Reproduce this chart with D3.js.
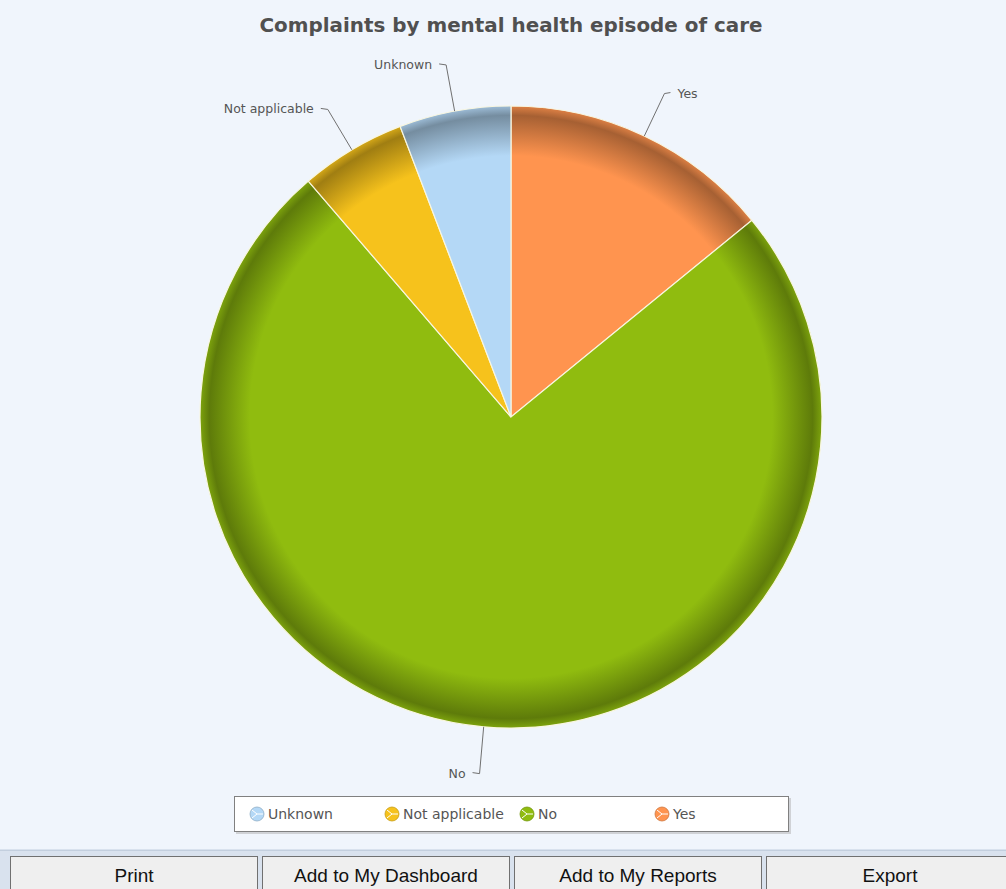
<!DOCTYPE html>
<html>
<head>
<meta charset="utf-8">
<script src="https://cdnjs.cloudflare.com/ajax/libs/d3/7.8.5/d3.min.js"></script>
<style>
  body { margin: 0; background: #f0f5fc; overflow: hidden; }
  svg { display: block; }
</style>
</head>
<body>
<script>
// slice data, clockwise from 12 o'clock
var categories = ["Yes", "No", "Not applicable", "Unknown"];
var values = [14.1, 74.6, 5.5, 5.8];
var colors = ["#ff944f", "#90bc0f", "#f6c21c", "#b4d8f6"];
var legendOrder = ["Unknown", "Not applicable", "No", "Yes"];
var buttons = ["Print", "Add to My Dashboard", "Add to My Reports", "Export"];

var width = 1006, height = 889;
var cx = 511, cy = 417, radius = 311;

var svg = d3.select("body").append("svg")
    .attr("width", width)
    .attr("height", height);

svg.append("rect").attr("width", width).attr("height", height).attr("fill", "#f0f5fc");

// title
svg.append("text")
    .attr("x", cx).attr("y", 32)
    .attr("text-anchor", "middle")
    .attr("font-family", "DejaVu Sans, Verdana, sans-serif")
    .attr("font-weight", "bold")
    .attr("font-size", 19)
    .attr("textLength", 503)
    .attr("lengthAdjust", "spacingAndGlyphs")
    .attr("fill", "#505050")
    .text("Complaints by mental health episode of care");

var data = categories.map(function(c, i) { return {name: c, value: values[i], color: colors[i]}; });

var pie = d3.pie().sort(null).value(function(d) { return d.value; });
var arcs = pie(data);
var arc = d3.arc().innerRadius(0).outerRadius(radius);

var defs = svg.append("defs");
data.forEach(function(d, i) {
  var g = defs.append("radialGradient")
      .attr("id", "grad" + i)
      .attr("gradientUnits", "userSpaceOnUse")
      .attr("cx", 0).attr("cy", 0).attr("r", radius);
  var base = d3.color(d.color);
  g.append("stop").attr("offset", "0%").attr("stop-color", base);
  g.append("stop").attr("offset", "84%").attr("stop-color", base);
  g.append("stop").attr("offset", "97%").attr("stop-color", base.darker(1.2));
  g.append("stop").attr("offset", "100%").attr("stop-color", base.darker(0.4));
});

var chart = svg.append("g").attr("transform", "translate(" + cx + "," + cy + ")");

chart.selectAll("path.slice")
    .data(arcs)
    .enter().append("path")
    .attr("class", "slice")
    .attr("d", arc)
    .attr("fill", function(d, i) { return "url(#grad" + i + ")"; })
    .attr("stroke", "#f8f6e0")
    .attr("stroke-width", 1.2);

// connector labels
var labelR = 358;
arcs.forEach(function(d) {
  var a = (d.startAngle + d.endAngle) / 2;
  var x1 = radius * Math.sin(a), y1 = -radius * Math.cos(a);
  var x2 = labelR * Math.sin(a), y2 = -labelR * Math.cos(a);
  var right = Math.sin(a) >= 0;
  var x3 = x2 + (right ? 6 : -7);
  chart.append("path")
      .attr("d", "M" + x1 + "," + y1 + "L" + x2 + "," + y2 + "L" + x3 + "," + (y2 - 1))
      .attr("fill", "none")
      .attr("stroke", "#707070")
      .attr("stroke-width", 1);
  chart.append("text")
      .attr("x", x3 + (right ? 7 : -7))
      .attr("y", y2 + 4)
      .attr("text-anchor", right ? "start" : "end")
      .attr("font-family", "DejaVu Sans, Verdana, sans-serif")
      .attr("font-size", 12.5)
      .attr("fill", "#555")
      .text(d.data.name);
});

// legend
var legend = svg.append("g");
legend.append("rect")
    .attr("x", 236).attr("y", 798).attr("width", 555).attr("height", 36)
    .attr("fill", "#b0b0b0").attr("opacity", 0.5);
legend.append("rect")
    .attr("x", 234.5).attr("y", 796.5).attr("width", 554).attr("height", 35)
    .attr("fill", "#ffffff").attr("stroke", "#808080");

var legendX = d3.scalePoint().domain(legendOrder).range([257, 662]);
var colorOf = d3.scaleOrdinal().domain(categories).range(colors);

var item = legend.selectAll("g.item")
    .data(legendOrder)
    .enter().append("g")
    .attr("class", "item")
    .attr("transform", function(d) { return "translate(" + legendX(d) + ",814)"; });

item.append("circle")
    .attr("r", 7)
    .attr("fill", function(d) { return colorOf(d); })
    .attr("stroke", function(d) { return d3.color(colorOf(d)).darker(0.6); })
    .attr("stroke-width", 0.8);
item.append("path")
    .attr("d", "M0,0L-5,-4M0,0L-5,4M0,0L6,0")
    .attr("stroke", "#ffffff")
    .attr("stroke-width", 1)
    .attr("fill", "none");
item.append("text")
    .attr("x", 11).attr("y", 5)
    .attr("font-family", "DejaVu Sans, Verdana, sans-serif")
    .attr("font-size", 14)
    .attr("fill", "#555")
    .text(function(d) { return d; });

// bottom button bar
svg.append("rect").attr("x", 0).attr("y", 849).attr("width", width).attr("height", 40).attr("fill", "#d9e2ee");
svg.append("line").attr("x1", 0).attr("x2", width).attr("y1", 850.5).attr("y2", 850.5).attr("stroke", "#c3cfde");

var btn = svg.selectAll("g.btn")
    .data(buttons)
    .enter().append("g")
    .attr("class", "btn")
    .attr("transform", function(d, i) { return "translate(" + (10 + i * 252) + ",856)"; });
btn.append("rect")
    .attr("x", 0.5).attr("y", 0.5).attr("width", 247).attr("height", 40)
    .attr("fill", "#efefef").attr("stroke", "#707070");
btn.append("text")
    .attr("x", 124).attr("y", 26)
    .attr("text-anchor", "middle")
    .attr("font-family", "Liberation Sans, Arial, sans-serif")
    .attr("font-size", 19)
    .attr("fill", "#111")
    .text(function(d) { return d; });
</script>
</body>
</html>
